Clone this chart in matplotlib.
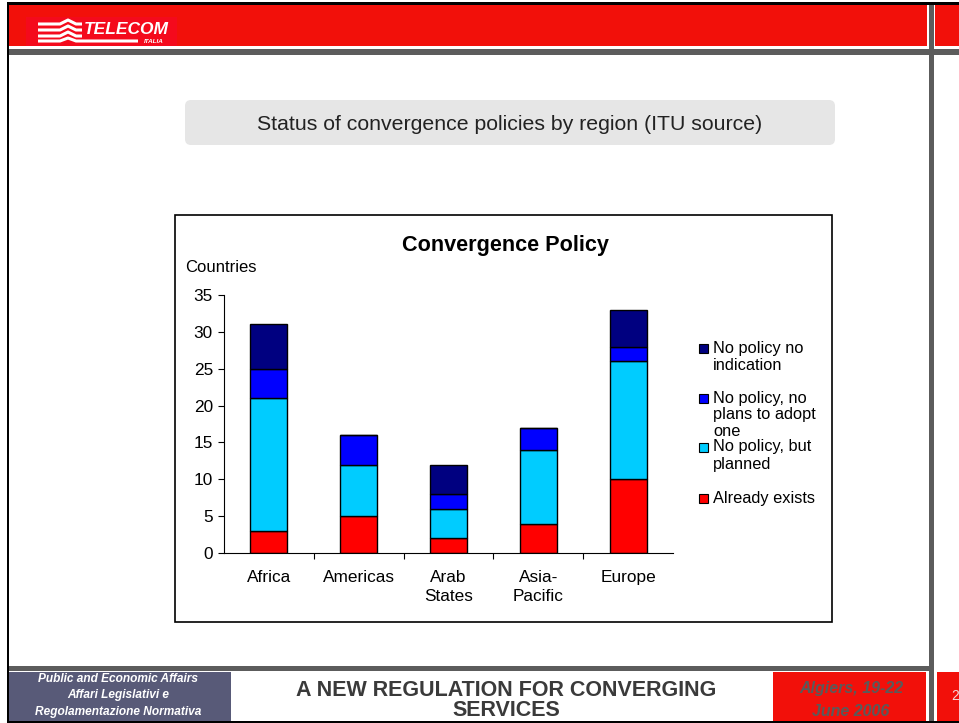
import matplotlib
matplotlib.use('Agg')
import matplotlib.pyplot as plt
from matplotlib.patches import Rectangle, FancyBboxPatch

# data
regions = ['Africa', 'Americas', 'Arab\nStates', 'Asia-\nPacific', 'Europe']
already_exists = [3, 5, 2, 4, 10]
planned = [18, 7, 4, 10, 16]
no_plans = [4, 4, 2, 3, 2]
no_indication = [6, 0, 4, 0, 5]

series_labels = ['Already exists', 'No policy, but\nplanned',
                 'No policy, no\nplans to adopt\none', 'No policy no\nindication']
series_colors = ['#ff0000', '#00ccff', '#0000ff', '#000080']

plt.rcParams['font.family'] = ['Liberation Sans', 'DejaVu Sans']

W, H = 959, 723
fig = plt.figure(figsize=(W / 100, H / 100), dpi=100)
fig.patch.set_facecolor('white')

# page decoration layer, pixel coords
bg = fig.add_axes([0, 0, 1, 1], zorder=0)
bg.set_xlim(0, W)
bg.set_ylim(H, 0)
bg.axis('off')


def box(x0, y0, x1, y1, color):
    bg.add_patch(Rectangle((x0, y0), x1 - x0, y1 - y0, color=color, lw=0))


red = '#f2100a'
gray = '#5c5c5c'
box(7, 2, W, 5, 'black')
box(7, 2, 9, H, 'black')
box(9, 5, 927, 46, red)
box(935, 5, W, 46, red)
box(9, 49, W, 55, gray)
box(929, 5, 934, H, gray)
box(9, 666, 929, 671, gray)
box(9, 672, 231, 721, '#585a78')
box(773, 672, 926, 721, red)
box(937, 672, W, 721, red)
box(7, 721, W, H, 'black')

# logo
box(26, 17, 177, 46, '#f40a1c')
for yy in [24, 30, 36]:
    bg.plot([38, 60, 68, 76, 82], [yy, yy, yy - 4, yy, yy], color='white', lw=2.2,
            solid_capstyle='butt')
bg.plot([38, 60, 68, 76, 138], [41, 41, 38, 41, 41], color='white', lw=2.2,
        solid_capstyle='butt')
bg.text(84, 30, 'TELECOM', color='white', fontsize=12.5, fontweight='bold',
        fontstyle='italic', ha='left', va='center')
bg.text(154, 41.5, 'ITALIA', color='white', fontsize=4.5, fontweight='bold',
        fontstyle='italic', ha='center', va='center')

# slide title box
bg.add_patch(FancyBboxPatch((189, 104), 642, 37, boxstyle='round,pad=4,rounding_size=6',
                            fc='#e6e6e6', ec='none'))
bg.text(510, 124, 'Status of convergence policies by region (ITU source)',
        fontsize=15.3, color='#222222', ha='center', va='center')

# chart frame
bg.add_patch(Rectangle((175, 215), 657, 407, fill=False, ec='black', lw=1.2))
bg.text(505, 245, 'Convergence Policy', fontsize=15.6, fontweight='bold',
        ha='center', va='center')
bg.text(185, 268, 'Countries', fontsize=12, ha='left', va='center')

# footer texts
for yy, s in zip([679, 695, 712], ['Public and Economic Affairs', 'Affari Legislativi e',
                                    'Regolamentazione Normativa']):
    bg.text(118, yy, s, color='white', fontsize=8.6, fontweight='bold', fontstyle='italic',
            ha='center', va='center')
for yy, s in zip([690, 711], ['A NEW REGULATION FOR CONVERGING', 'SERVICES']):
    bg.text(506, yy, s, color='#3a3a3a', fontsize=15.5, fontweight='bold',
            ha='center', va='center')
for yy, s in zip([688, 712], ['Algiers, 19-22', 'June 2006']):
    bg.text(851, yy, s, color='#5a5a5a', fontsize=11.5, fontweight='bold',
            fontstyle='italic', ha='center', va='center')
bg.text(951, 696, '2', color='#f4d8d8', fontsize=10, ha='left', va='center')

# the chart itself
ax = fig.add_axes([224 / W, (H - 553) / H, 449 / W, 258 / H], zorder=2)
ax.patch.set_alpha(0)
xs = range(len(regions))
series = [already_exists, planned, no_plans, no_indication]
bottom = [0] * len(regions)
for vals, col, lab in zip(series, series_colors, series_labels):
    ax.bar(xs, vals, width=0.41, bottom=bottom, color=col, edgecolor='black',
           linewidth=1.0, label=lab)
    bottom = [b + v for b, v in zip(bottom, vals)]

ax.set_xlim(-0.5, len(regions) - 0.5)
ax.set_ylim(0, 35)
ax.set_yticks(range(0, 36, 5))
ax.set_xticks(list(xs))
ax.set_xticklabels(regions, fontsize=12.4, linespacing=1.35)
ax.set_xticks([i + 0.5 for i in range(len(regions) - 1)], minor=True)
ax.tick_params(axis='x', which='major', length=0, pad=12)
ax.tick_params(axis='x', which='minor', length=4, width=0.8, direction='out')
ax.tick_params(axis='y', length=4, width=0.8, pad=4, labelsize=12.4)
for s in ['top', 'right']:
    ax.spines[s].set_visible(False)
for s in ['left', 'bottom']:
    ax.spines[s].set_linewidth(0.8)

# legend, Excel style: marker at first line of each entry
legend_y = [498, 447, 398, 348]
for lab, col, yy in zip(series_labels, series_colors, legend_y):
    bg.add_patch(Rectangle((699, yy - 4.5), 9, 9, fc=col, ec='black', lw=0.8))
    for i, line in enumerate(lab.split('\n')):
        bg.text(713, yy + i * 17, line, fontsize=11.8, ha='left', va='center')

fig.savefig('out.png', dpi=100)
